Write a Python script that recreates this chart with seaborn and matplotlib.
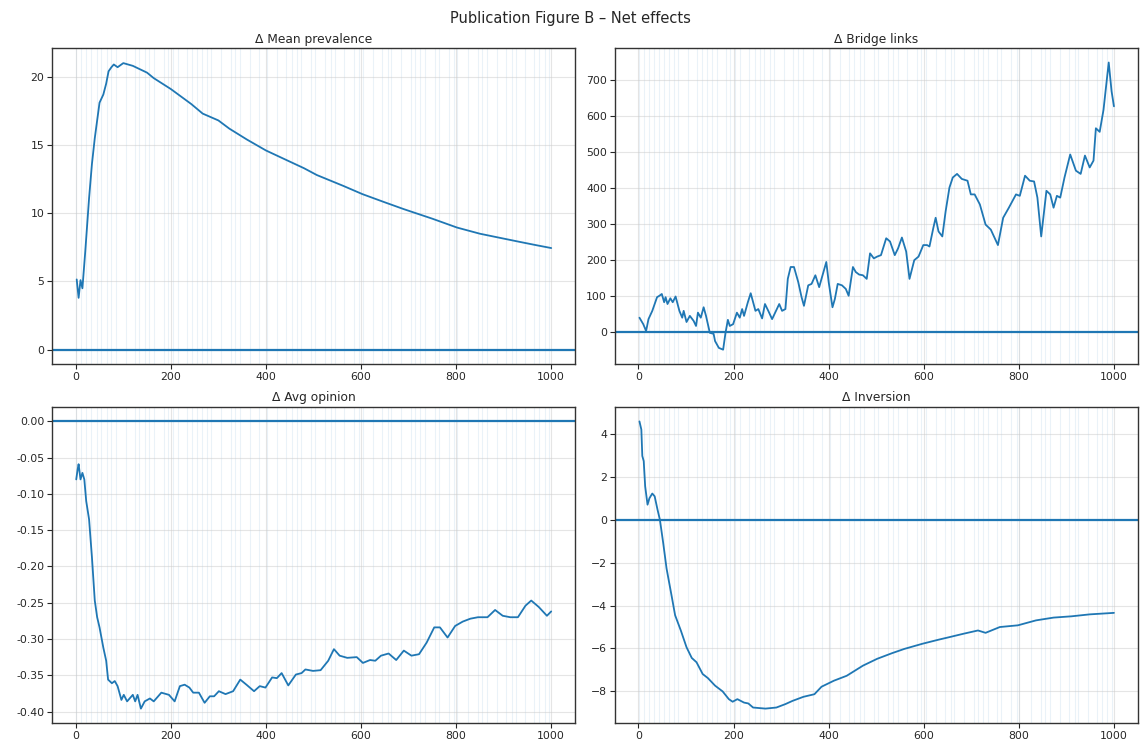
import numpy as np
import pandas as pd
import seaborn as sns
import matplotlib
matplotlib.use("Agg")
import matplotlib.pyplot as plt

# ---------------- data ----------------
prev_t = [2, 6, 10, 14, 20, 28, 34, 40, 50, 58, 64, 69, 75, 80, 88, 100, 110, 120, 132,
          150, 164, 200, 243, 267, 300, 323, 360, 400, 443, 480, 507, 563, 603, 650, 690,
          750, 802, 850, 882, 934, 970, 1000]
prev_v = [5.15, 3.8, 5.1, 4.5, 7.2, 11.1, 13.6, 15.5, 18.1, 18.7, 19.5, 20.4, 20.7, 20.9, 20.7,
          21.0, 20.9, 20.8, 20.6, 20.3, 19.9, 19.1, 18.0, 17.3, 16.8, 16.2, 15.4, 14.6, 13.9,
          13.3, 12.8, 12.0, 11.4, 10.8, 10.3, 9.6, 8.95, 8.5, 8.27, 7.9, 7.65, 7.45]

bridge_t = [2, 10, 16, 21, 29, 39, 44, 49, 54, 57, 61, 67, 72, 78, 86, 92, 95, 101, 108, 116,
            121, 125, 131, 137, 142, 150, 158, 161, 169, 178, 183, 188, 192, 199, 207, 213, 218,
            222, 230, 236, 241, 246, 252, 260, 266, 273, 281, 286, 296, 302, 309, 314, 320, 327,
            336, 343, 348, 357, 364, 372, 380, 389, 395, 400, 408, 413, 419, 428, 436, 442, 451,
            457, 464, 472, 480, 487, 495, 502, 510, 521, 529, 539, 546, 554, 563, 570, 580, 589,
            599, 607, 612, 620, 625, 631, 639, 646, 654, 661, 670, 680, 692, 699, 707, 718, 730,
            741, 756, 767, 779, 794, 802, 813, 823, 832, 839, 847, 858, 866, 873, 880, 887, 896,
            908, 920, 930, 939, 949, 957, 962, 970, 978, 989, 995, 1000]
bridge_v = [40, 22, 3, 36, 59, 97, 101, 106, 83, 97, 78, 94, 83, 99, 59, 40, 59, 28, 45, 31,
            17, 54, 40, 69, 45, -2, -5, -25, -44, -49, -2, 34, 17, 22, 54, 40, 64,
            45, 83, 108, 83, 59, 64, 38, 78, 59, 36, 50, 78, 59, 64, 148, 181, 181,
            139, 97, 73, 130, 134, 158, 125, 167, 195, 139, 69, 92, 134, 130, 120, 101, 181,
            167, 160, 158, 148, 219, 205, 210, 214, 261, 252, 214, 233, 263, 224, 148, 200, 210,
            242, 242, 238, 289, 318, 280, 266, 336, 402, 430, 440, 426, 421, 383, 383, 355, 299,
            285, 242, 318, 346, 383, 379, 435, 421, 419, 374, 266, 393, 383, 346, 379, 374, 430,
            494, 449, 440, 491, 458, 477, 567, 557, 618, 750, 670, 628]

opin_t = [1, 4, 6, 10, 14, 18, 22, 28, 34, 40, 45, 50, 58, 64, 68, 76, 82, 88, 96, 101, 108,
          120, 125, 130, 137, 145, 156, 164, 180, 196, 208, 219, 229, 239, 247, 259, 271, 282,
          291, 301, 315, 331, 346, 359, 375, 387, 399, 413, 423, 433, 447, 463, 475, 483, 499,
          515, 531, 543, 555, 571, 591, 604, 619, 630, 642, 658, 674, 690, 706, 722, 738, 754,
          766, 782, 798, 814, 830, 846, 866, 882, 898, 914, 930, 946, 958, 974, 991, 1000]
opin_v = [-0.080, -0.066, -0.059, -0.080, -0.071, -0.080, -0.110, -0.135, -0.187, -0.247, -0.270,
          -0.284, -0.312, -0.330, -0.356, -0.361, -0.358, -0.365, -0.384, -0.377, -0.386,
          -0.377, -0.386, -0.377, -0.396, -0.386, -0.382, -0.386, -0.374, -0.377, -0.386, -0.365,
          -0.363, -0.367, -0.374, -0.374, -0.388, -0.379, -0.379, -0.372, -0.376, -0.372, -0.356,
          -0.363, -0.372, -0.365, -0.367, -0.353, -0.354, -0.347, -0.364, -0.349, -0.347, -0.342,
          -0.344, -0.343, -0.330, -0.314, -0.323, -0.326, -0.325, -0.333, -0.329, -0.330, -0.323,
          -0.320, -0.329, -0.316, -0.323, -0.321, -0.305, -0.284, -0.284, -0.298, -0.282, -0.276,
          -0.272, -0.270, -0.270, -0.260, -0.268, -0.270, -0.270, -0.254, -0.247, -0.256, -0.268,
          -0.262]

inv_t = [2, 6, 8, 11, 14, 19, 23, 29, 34, 40, 45, 52, 59, 70, 77, 89, 101, 112, 122, 135, 146,
         161, 177, 190, 198, 208, 222, 231, 241, 267, 290, 309, 324, 347, 370, 385, 411, 438, 472,
         502, 533, 559, 597, 631, 654, 684, 714, 730, 760, 798, 836, 873, 911, 949, 1000]
inv_v = [4.58, 4.2, 2.97, 2.73, 1.56, 0.70, 1.0, 1.22, 1.09, 0.47, 0.0, -1.09, -2.27, -3.59,
         -4.45, -5.16, -5.94, -6.44, -6.64, -7.19, -7.38, -7.73, -8.0, -8.36, -8.48, -8.36, -8.52,
         -8.56, -8.75, -8.80, -8.75, -8.59, -8.44, -8.25, -8.13, -7.78, -7.5, -7.27, -6.80, -6.48,
         -6.22, -6.02, -5.78, -5.59, -5.47, -5.31, -5.16, -5.27, -5.0, -4.92, -4.69, -4.56, -4.50,
         -4.41, -4.34]

event_t = [1, 11, 22, 33, 44, 54, 65, 75, 84, 105, 124, 134, 145, 155, 165, 185, 193, 204, 214,
           233, 244, 255, 265, 276, 285, 305, 326, 335, 345, 366, 385, 403, 424, 443, 454, 466,
           474, 495, 503, 524, 536, 545, 565, 586, 595, 605, 626, 645, 657, 664, 685, 705, 714,
           725, 735, 755, 763, 784, 796, 801, 825, 846, 855, 866, 886, 905, 918, 925, 945, 964,
           975, 986, 995]

titles = ["\u0394 Mean prevalence", "\u0394 Bridge links", "\u0394 Avg opinion", "\u0394 Inversion"]
suptitle = "Publication Figure B \u2013 Net effects"

# ---------------- plotting ----------------
sns.set_style("ticks")
plt.rcParams["font.family"] = ["DejaVu Sans"]
plt.rcParams["axes.edgecolor"] = "#333333"
plt.rcParams["xtick.labelsize"] = 7.8
plt.rcParams["ytick.labelsize"] = 7.8

fig, axes = plt.subplots(2, 2, figsize=(11.4, 7.4), dpi=100)
fig.subplots_adjust(left=0.0456, right=0.998, top=0.935, bottom=0.023, wspace=0.076, hspace=0.136)

series = [(prev_t, prev_v), (bridge_t, bridge_v), (opin_t, opin_v), (inv_t, inv_v)]
for ax, (t, v), title in zip(axes.flat, series, titles):
    df = pd.DataFrame({"t": t, "v": v})
    for e in event_t:
        ax.axvline(e, color="C0", alpha=0.09, lw=0.8, zorder=0)
    ax.grid(True, color="#cccccc", alpha=0.5, lw=0.8)
    sns.lineplot(data=df, x="t", y="v", ax=ax, color="#1f77b4", lw=1.3)
    ax.axhline(0, color="#1f77b4", lw=1.6)
    ax.set_xlim(-50, 1050)
    ax.set_xlabel("")
    ax.set_ylabel("")
    ax.set_title(title, fontsize=8.8, pad=4)
    for s in ax.spines.values():
        s.set_visible(True)
        s.set_linewidth(1.0)
    ax.tick_params(length=3.5, width=0.8, pad=2)
    ax.set_xticks([0, 200, 400, 600, 800, 1000])

axes[0, 0].set_ylim(-1.05, 22.1)
axes[0, 1].set_ylim(-89, 790)
axes[1, 0].set_ylim(-0.4158, 0.0198)
axes[1, 0].yaxis.set_major_formatter(matplotlib.ticker.FormatStrFormatter("%.2f"))
axes[1, 1].set_ylim(-9.47, 5.25)

fig.suptitle(suptitle, fontsize=10.5, y=0.985)
fig.savefig("out.png", dpi=100)
